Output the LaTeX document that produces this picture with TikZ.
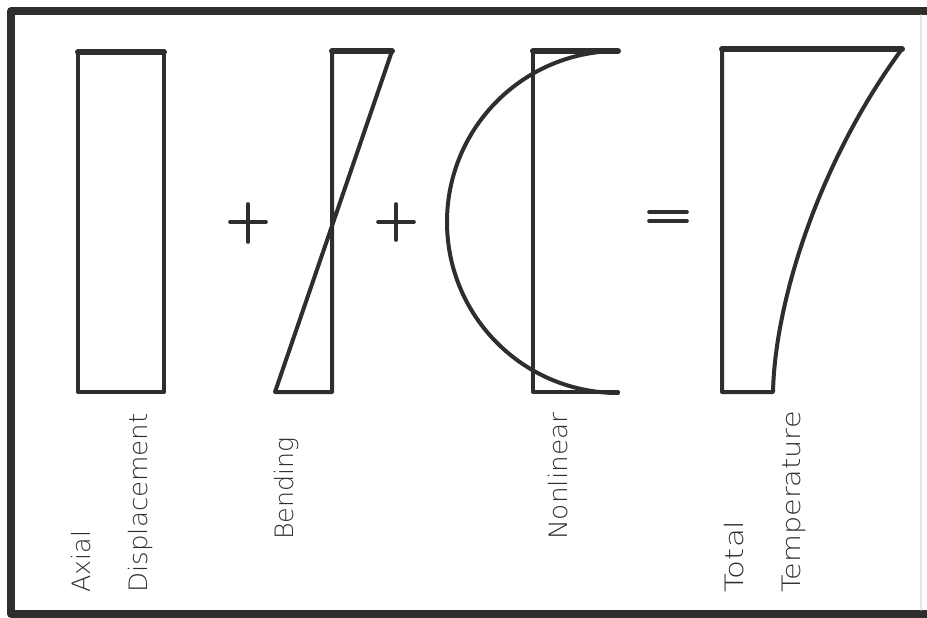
\documentclass[tikz,border=0pt]{standalone}
\usepackage{fontspec}
\newfontfamily\lblfont{DejaVu Sans ExtraLight}
\definecolor{ink}{RGB}{48,46,44}
\begin{document}
\begin{tikzpicture}[x=0.75pt,y=-0.75pt, line cap=round, line join=round,
  shapeline/.style={draw=ink, line width=3pt},
  topedge/.style={draw=ink, line width=4.5pt},
  frameline/.style={draw=ink, line width=5.5pt},
  signline/.style={draw=ink, line width=2.7pt},
  lbl/.style={rotate=90, anchor=base west, inner sep=0pt, text=ink,
    font=\lblfont\fontsize{19}{19}\selectfont}]
\useasboundingbox (0,0) rectangle (927,617);
\fill[white] (0,0) rectangle (927,617);
% frame
\draw[frameline] (935,11) -- (11,11) -- (11,614) -- (935,614);
\draw[gray!20, line width=0.8pt] (921,15) -- (921,610);
% axial rectangle
\draw[shapeline] (164,52) -- (164,392) -- (78,392) -- (78,52);
\draw[topedge] (78,52) -- (164,52);
% plus 1
\draw[signline] (230,222) -- (266,222);
\draw[signline] (248,204) -- (248,242);
% bending
\draw[shapeline] (392,51) -- (275,392) -- (332,392) -- (332,51);
\draw[topedge] (332,51) -- (392,51);
% plus 2
\draw[signline] (378,222) -- (414,222);
\draw[signline] (396,204) -- (396,240);
% nonlinear
\draw[shapeline] (533,51) -- (533,392) -- (618,392);
\draw[shapeline] (618,51) arc[start angle=-90, end angle=-270, radius=171];
\draw[topedge] (533,51) -- (618,51);
% equals
\draw[signline] (649,212) -- (687,212);
\draw[signline] (649,221) -- (687,221);
% total
\draw[shapeline] (902,49) .. controls (820,160) and (775,300) .. (773,392) -- (722,392) -- (722,49);
\draw[topedge] (722,49) -- (902,49);
% labels
\node[lbl] (axial) at (90,593) {Axial};
\node[lbl, xscale=1.03] (disp) at (147,593) {Displacement};
\node[lbl] (bend) at (293,540) {Bending};
\node[lbl, xscale=1.04] (nonlin) at (567,540) {Nonlinear};
\node[lbl, xscale=1.22] (total) at (743,593) {Total};
\node[lbl, xscale=1.13] (temp) at (800,593) {Temperature};
\end{tikzpicture}
\end{document}
